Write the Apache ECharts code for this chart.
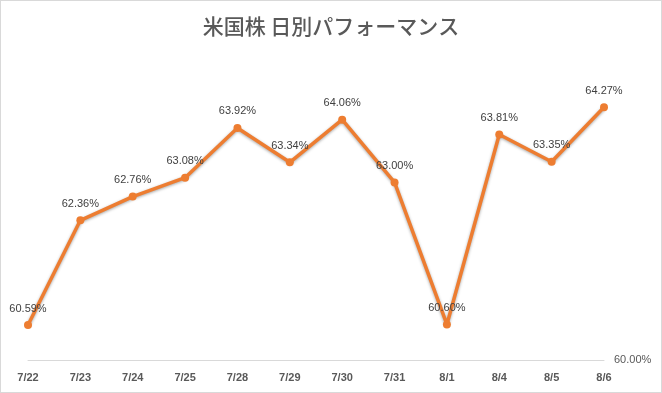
<!DOCTYPE html>
<html><head><meta charset="utf-8">
<script src="https://cdn.jsdelivr.net/npm/echarts@6/dist/echarts.min.js"></script>
<style>
html,body{margin:0;padding:0;background:#fff;}
#c{width:662px;height:393px;box-sizing:border-box;border:1px solid #d9d9d9;}
</style></head>
<body><div id="c"></div>
<script>
const titleText = '米国株 日別パフォーマンス';
const categories = ['7/22','7/23','7/24','7/25','7/28','7/29','7/30','7/31','8/1','8/4','8/5','8/6'];
const values = [60.59, 62.36, 62.76, 63.08, 63.92, 63.34, 64.06, 63.00, 60.60, 63.81, 63.35, 64.27];
const yMin = 60, yMax = 65;

const chart = echarts.init(document.getElementById('c'), null, {renderer:'canvas'});
chart.setOption({
  animation:false,
  backgroundColor:'#fff',
  title:{text:titleText,left:'center',top:10,
    textStyle:{fontFamily:'Noto Sans CJK JP',fontSize:21,fontWeight:500,color:'#595959'}},
  grid:{left:27,right:57,top:63,bottom:32},
  xAxis:{type:'category',data:categories,boundaryGap:false,
    axisLine:{lineStyle:{color:'#d9d9d9',width:1}},axisTick:{show:false},
    axisLabel:{color:'#595959',fontSize:11,fontWeight:'bold',margin:12,fontFamily:'Liberation Sans'}},
  yAxis:{type:'value',position:'right',min:yMin,max:yMax,interval:1,
    splitLine:{show:false},axisLine:{show:false},axisTick:{show:false},
    axisLabel:{color:'#595959',fontSize:11,margin:10,fontFamily:'Liberation Sans',verticalAlign:'middle',
      padding:[0,0,6,0],
      formatter:v=> v===yMin ? v.toFixed(2)+'%' : ''}},
  series:[{type:'line',data:values,symbol:'circle',symbolSize:8,
    lineStyle:{color:'#ED7D31',width:3.5,shadowColor:'rgba(0,0,0,0.35)',shadowBlur:3,shadowOffsetY:1},
    itemStyle:{color:'#ED7D31'},
    label:{show:true,position:'top',distance:7,color:'#404040',fontSize:11,fontFamily:'Liberation Sans',
      formatter:p=>p.value.toFixed(2)+'%'}}]
});
</script></body></html>
